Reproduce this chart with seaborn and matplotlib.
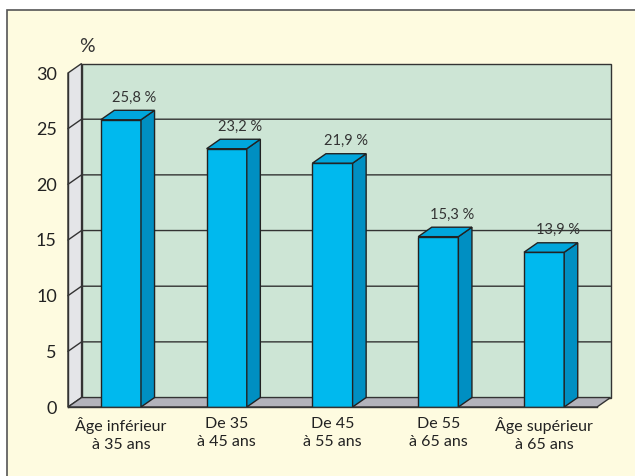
import matplotlib
matplotlib.use("Agg")
import matplotlib.pyplot as plt
import seaborn as sns
import pandas as pd
from matplotlib.patches import Polygon, Rectangle

# data
categories = ["Âge inférieur\nà 35 ans", "De 35\nà 45 ans", "De 45\nà 55 ans",
              "De 55\nà 65 ans", "Âge supérieur\nà 65 ans"]
values = [25.8, 23.2, 21.9, 15.3, 13.9]
value_labels = ["25,8 %", "23,2 %", "21,9 %", "15,3 %", "13,9 %"]
y_ticks = [0, 5, 10, 15, 20, 25, 30]

df = pd.DataFrame({"age": categories, "pct": values})

sns.set_style("white")
plt.rcParams["font.family"] = ["Lato", "DejaVu Sans"]

fig = plt.figure(figsize=(6.35, 4.76), dpi=100)
fig.patch.set_facecolor("white")
# cream frame with a thin border at top and left
fig.patches.append(Rectangle((7 / 635, -0.1), 1.0, 1.1 - 10 / 476, transform=fig.transFigure,
                             facecolor="#fefbe0", edgecolor="#555555", lw=1.2, zorder=-5))

ax = fig.add_axes([68 / 635, 69 / 476, 529 / 635, 334 / 476])
ax.set_facecolor("none")

sns.barplot(data=df, x="age", y="pct", color="#00b9ee", width=0.38, saturation=1,
            edgecolor="#222222", linewidth=1, ax=ax, zorder=2)
bars = list(ax.patches)

x0, x1 = -0.5, 4.5
dx, dy = 0.128, 0.85
ax.set_xlim(x0, x1)
ax.set_ylim(0, 30)

# pseudo 3D walls
ax.add_patch(Polygon([(x0 + dx, dy), (x1 + dx, dy), (x1 + dx, 30 + dy), (x0 + dx, 30 + dy)],
                     fc="#cde5d5", ec="#333333", lw=1, clip_on=False, zorder=0))
ax.add_patch(Polygon([(x0, 0), (x0 + dx, dy), (x0 + dx, 30 + dy), (x0, 30)],
                     fc="#e4e5e8", ec="#333333", lw=1, clip_on=False, zorder=0.2))
ax.add_patch(Polygon([(x0, 0), (x1, 0), (x1 + dx, dy), (x0 + dx, dy)],
                     fc="#b3b3bb", ec="#333333", lw=1, clip_on=False, zorder=0.5))
for v in y_ticks[1:-1]:
    ax.plot([x0, x0 + dx, x1 + dx], [v, v + dy, v + dy], color="#333333", lw=1,
            clip_on=False, zorder=0.6)

# side and top faces of the bars
for bar, lab in zip(bars, value_labels):
    x = bar.get_x()
    w = bar.get_width()
    h = bar.get_height()
    ax.add_patch(Polygon([(x + w, 0), (x + w + dx, dy), (x + w + dx, h + dy), (x + w, h)],
                         fc="#008fc2", ec="#222222", lw=1, zorder=3))
    ax.add_patch(Polygon([(x, h), (x + w, h), (x + w + dx, h + dy), (x + dx, h + dy)],
                         fc="#00a6dc", ec="#222222", lw=1, zorder=3))
    ax.text(x + w / 2 + dx, h + 2.0, lab, ha="center", va="center", fontsize=10.5, color="#333333")

ax.text(x0 + 0.18, 32.4, "%", ha="center", va="center", fontsize=14, color="#333333", clip_on=False)

ax.set_xlabel("")
ax.set_ylabel("")
ax.set_yticks(y_ticks)
ax.tick_params(axis="y", length=6, width=1, color="#333333", labelsize=13, labelcolor="#222222", pad=2)
ax.set_xticks(range(len(categories)))
ax.set_xticklabels(categories)
ax.set_xticks([x0 + i for i in range(6)], minor=True)
ax.tick_params(axis="x", which="major", length=0, labelsize=11.5, labelcolor="#222222", pad=7)
ax.tick_params(axis="x", which="minor", length=5, width=1, color="#333333", direction="out")
for t in ax.get_xticklabels():
    t.set_linespacing(1.4)

for side in ["top", "right"]:
    ax.spines[side].set_visible(False)
for side in ["left", "bottom"]:
    ax.spines[side].set_color("#333333")
    ax.spines[side].set_linewidth(1)
    ax.spines[side].set_zorder(4)

fig.savefig("out.png", dpi=100)
